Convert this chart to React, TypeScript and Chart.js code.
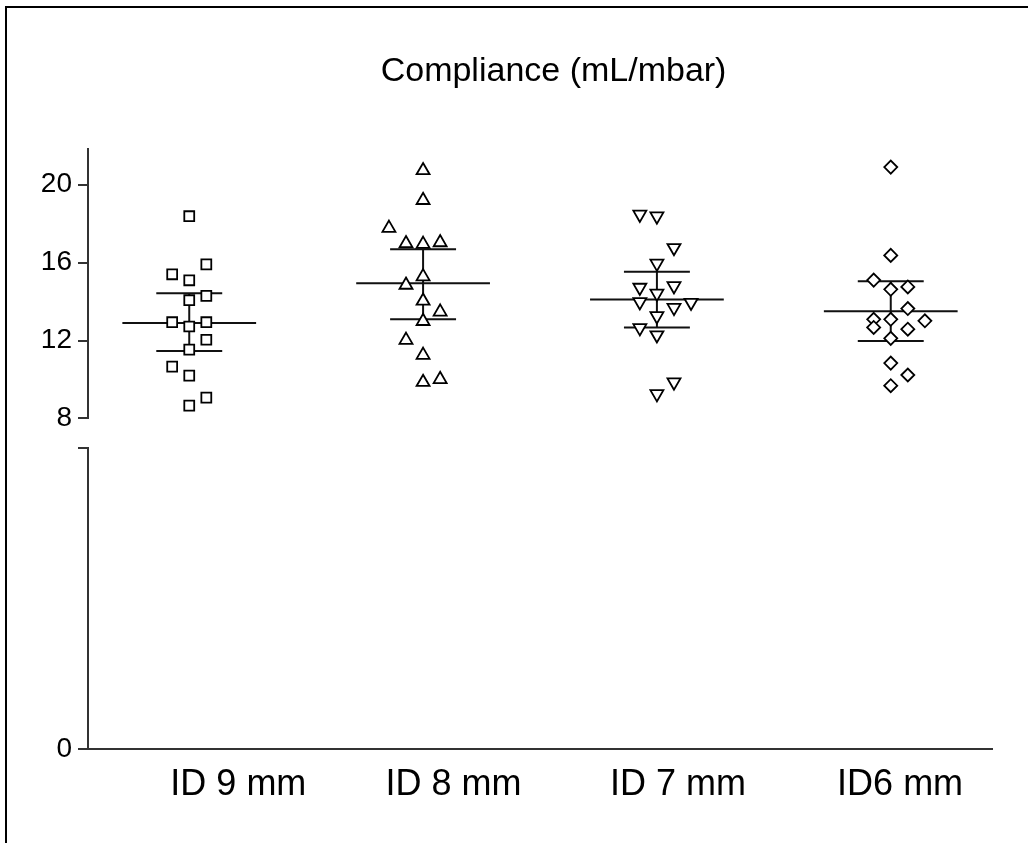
import React, { useEffect, useRef } from 'react';
import { Chart, registerables } from 'chart.js';

Chart.register(...registerables);

// ---------- data ----------
const titleText = 'Compliance (mL/mbar)';
const categories = ['ID 9 mm', 'ID 8 mm', 'ID 7 mm', 'ID6 mm'];

const id9Values = [18.38, 15.91, 15.4, 15.09, 14.29, 14.07, 12.94, 12.72, 12.94, 12.04, 11.53, 10.66, 10.2, 9.07, 8.66];
const id9Slots = [0, 1, -1, 0, 1, 0, -1, 0, 1, 1, 0, -1, 0, 1, 0];

const id8Values = [20.73, 19.2, 17.77, 16.98, 16.95, 17.03, 15.28, 14.85, 14.03, 13.47, 12.99, 12.02, 11.25, 9.86, 10.01];
const id8Slots = [0, 0, -2, -1, 0, 1, 0, -1, 0, 1, 0, -1, 0, 0, 1];

const id7Values = [18.47, 18.38, 16.76, 15.96, 14.72, 14.8, 14.42, 13.98, 13.95, 13.69, 13.26, 12.65, 12.28, 9.86, 9.26];
const id7Slots = [-1, 0, 1, 0, -1, 1, 0, -1, 2, 1, 0, -1, 0, 1, 0];

const id6Values = [20.9, 16.37, 15.1, 14.63, 14.75, 13.64, 13.09, 13.09, 13.01, 12.67, 12.58, 12.11, 10.84, 10.23, 9.68];
const id6Slots = [0, 0, -1, 0, 1, 1, -1, 0, 2, -1, 1, 0, 0, 1, 0];

const means = [12.9, 14.94, 14.1, 13.5];
const upperBars = [14.42, 16.69, 15.53, 15.04];
const lowerBars = [11.46, 13.09, 12.67, 11.97];

const topTicks = [8, 12, 16, 20];
const bottomTickLabels = ['0'];

// ---------- layout / style constants ----------
const groupValues = [id9Values, id8Values, id7Values, id6Values];
const groupSlots = [id9Slots, id8Slots, id7Slots, id6Slots];
const labelOffsets = [0.21, 0.13, 0.09, 0.04];
const slotWidth = 0.073;
const meanHalf = 0.286;
const barHalf = 0.141;
const styles = [
  { pointStyle: 'rect', radius: 7, rotation: 0 },
  { pointStyle: 'triangle', radius: 7.5, rotation: 0 },
  { pointStyle: 'triangle', radius: 7.5, rotation: 180 },
  { pointStyle: 'rectRot', radius: 6.5, rotation: 0 },
];
const axisColor = '#333';
const tickFont = "'Liberation Sans Narrow', 'Arial Narrow', 'Liberation Sans', Arial, sans-serif";
const mainFont = "'Liberation Sans', Arial, sans-serif";

const titlePlugin = {
  id: 'customTitle',
  afterDraw(chart: any) {
    const ctx = chart.ctx;
    ctx.save();
    ctx.font = `34px ${mainFont}`;
    ctx.fillStyle = '#000';
    ctx.textAlign = 'center';
    ctx.textBaseline = 'middle';
    const a = chart.chartArea;
    ctx.fillText(titleText, a.left + (a.right - a.left) * 0.515, 72);
    ctx.restore();
  },
};

export default function App() {
  const ref = useRef<HTMLCanvasElement | null>(null);

  useEffect(() => {
    if (!ref.current) return;

    const pointSets = groupValues.map((vals, gi) => ({
      type: 'scatter' as const,
      label: categories[gi],
      data: vals.map((v, i) => ({ x: gi + 1 + groupSlots[gi][i] * slotWidth, y: v })),
      yAxisID: 'yTop',
      pointStyle: styles[gi].pointStyle,
      pointRadius: styles[gi].radius,
      pointRotation: styles[gi].rotation,
      pointBackgroundColor: '#fff',
      pointBorderColor: '#000',
      pointBorderWidth: 1.8,
      showLine: false,
      order: 0,
    }));

    const lineSets = means.map((m, gi) => {
      const c = gi + 1;
      return {
        type: 'scatter' as const,
        label: 'stats' + gi,
        data: [
          { x: c - meanHalf, y: m },
          { x: c + meanHalf, y: m },
          { x: c, y: null },
          { x: c - barHalf, y: upperBars[gi] },
          { x: c + barHalf, y: upperBars[gi] },
          { x: c, y: null },
          { x: c - barHalf, y: lowerBars[gi] },
          { x: c + barHalf, y: lowerBars[gi] },
          { x: c, y: null },
          { x: c, y: upperBars[gi] },
          { x: c, y: lowerBars[gi] },
        ],
        yAxisID: 'yTop',
        showLine: true,
        spanGaps: false,
        borderColor: '#111',
        borderWidth: 2,
        pointRadius: 0,
        order: 1,
      };
    });

    const chart = new Chart(ref.current, {
      type: 'scatter',
      data: { datasets: [...pointSets, ...lineSets] as any },
      options: {
        responsive: false,
        animation: false,
        layout: { padding: { top: 149, right: 36, bottom: 0, left: 0 } },
        plugins: { legend: { display: false }, tooltip: { enabled: false }, title: { display: false } },
        scales: {
          x: {
            type: 'linear',
            position: 'bottom',
            min: 0.567,
            max: 4.433,
            border: { display: true, color: axisColor, width: 2 },
            grid: { display: false, drawTicks: false },
            afterBuildTicks: (s: any) => {
              s.ticks = categories.map((_, i) => ({ value: i + 1 + labelOffsets[i] }));
            },
            ticks: {
              autoSkip: false,
              maxRotation: 0,
              padding: 14,
              color: '#000',
              font: { family: mainFont, size: 36 },
              callback: (_v: any, i: number) => categories[i],
            },
            afterFit: (s: any) => { s.height = 94; },
          },
          yTop: {
            type: 'linear',
            position: 'left',
            stack: 'yaxis',
            stackWeight: 269,
            weight: 3,
            min: 8,
            max: 21.83,
            border: { display: true, color: axisColor, width: 2 },
            grid: { drawOnChartArea: false, drawTicks: true, tickLength: 10, color: axisColor, lineWidth: 2 },
            afterBuildTicks: (s: any) => { s.ticks = topTicks.map((v) => ({ value: v })); },
            ticks: { color: '#000', padding: 6, font: { family: tickFont, size: 28 } },
            afterFit: (s: any) => { s.width = 88; },
          },
          yGap: {
            type: 'linear',
            position: 'left',
            stack: 'yaxis',
            stackWeight: 30,
            weight: 2,
            min: 0,
            max: 1,
            border: { display: false },
            grid: { display: false },
            ticks: { display: false },
            afterFit: (s: any) => { s.width = 88; },
          },
          yBot: {
            type: 'linear',
            position: 'left',
            stack: 'yaxis',
            stackWeight: 300,
            weight: 1,
            min: 0,
            max: 1,
            border: { display: true, color: axisColor, width: 2 },
            grid: { drawOnChartArea: false, drawTicks: true, tickLength: 10, color: axisColor, lineWidth: 2 },
            afterBuildTicks: (s: any) => { s.ticks = [{ value: 0 }, { value: 1 }]; },
            ticks: {
              color: '#000',
              padding: 6,
              font: { family: tickFont, size: 28 },
              callback: (_v: any, i: number) => (i < bottomTickLabels.length ? bottomTickLabels[i] : ''),
            },
            afterFit: (s: any) => { s.width = 88; },
          },
        },
      } as any,
      plugins: [titlePlugin],
    });

    return () => chart.destroy();
  }, []);

  return (
    <div style={{ position: 'fixed', left: 0, top: 0, width: 1028, height: 843, background: '#fff' }}>
      <canvas ref={ref} width={1028} height={843} style={{ position: 'absolute', left: 0, top: 0 }} />
      <div
        style={{
          position: 'absolute',
          left: 5,
          top: 6,
          width: 1023,
          height: 837,
          borderTop: '2px solid #000',
          borderLeft: '2px solid #000',
          boxSizing: 'border-box',
          pointerEvents: 'none',
        }}
      />
    </div>
  );
}
